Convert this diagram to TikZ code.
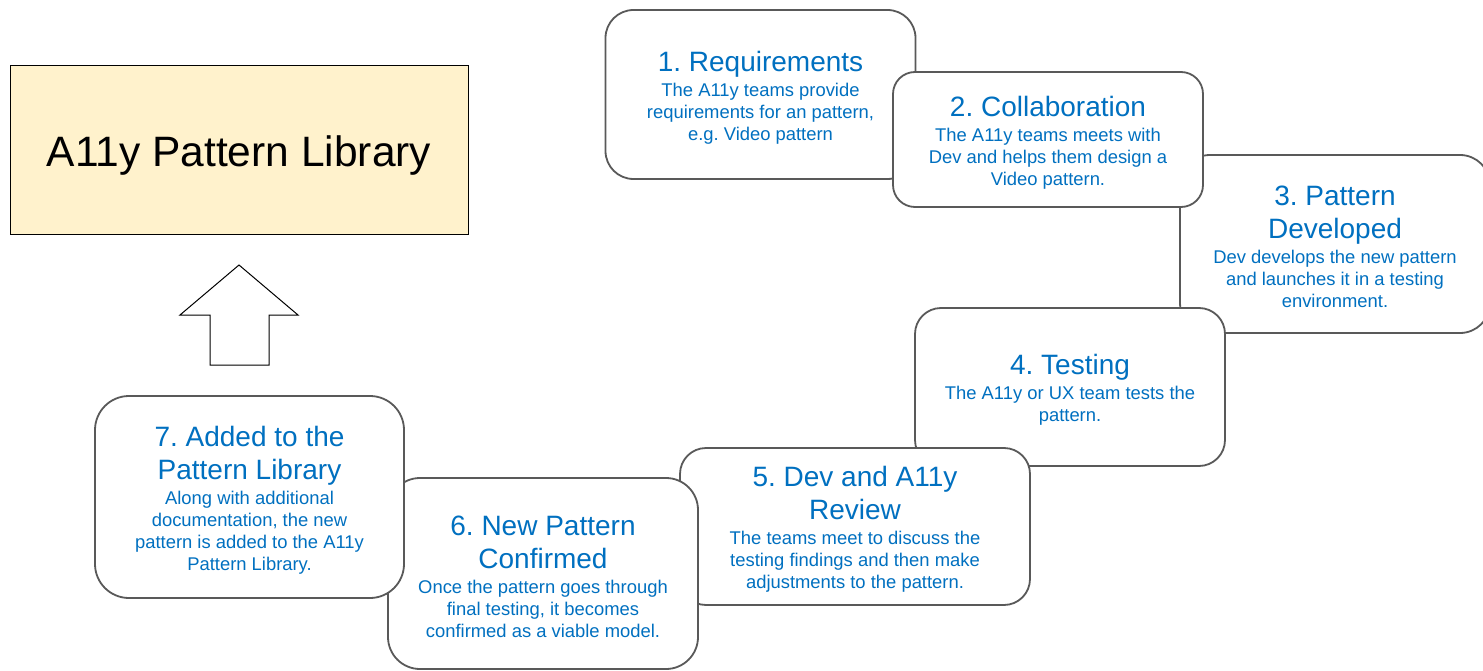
\documentclass[tikz,border=0pt]{standalone}
\usepackage{fontspec}
\setmainfont{Liberation Sans}
\frenchspacing
\definecolor{txtblue}{HTML}{0070C0}
\definecolor{boxgray}{HTML}{595959}
\definecolor{libfill}{HTML}{FFF2CC}
\newcommand{\stepbody}{\fontsize{18.4}{22}\selectfont\lineskiplimit=-100pt\relax}
\newcommand{\stephead}{\fontsize{28}{33}\selectfont}
\newcommand{\stepstrut}{\rule{0pt}{26pt}}
\begin{document}
\begin{tikzpicture}[x=1pt,y=-1pt]
\tikzset{stage/.style={draw=boxgray,line width=1.8pt,fill=white,text=txtblue,align=center,font=\stepbody,inner sep=0pt,minimum width=310pt}}
\useasboundingbox (0,0) rectangle (1483,671);
\node[draw,line width=1pt,fill=libfill,minimum width=458pt,minimum height=169pt,font=\fontsize{42.5}{50}\selectfont] (lib) at (239,150.5) {\rule{0pt}{41pt}A11y Pattern Library};
\draw[line width=1pt,fill=white] (239,265) -- (298,315) -- (269,315) -- (269,365) -- (210,365) -- (210,315) -- (180,315) -- cycle;
\node[stage,minimum height=169pt,rounded corners=28pt] (1) at (760.5,94.5) {\stepstrut\stephead 1. Requirements\\[3pt] The A11y teams provide\\ requirements for an pattern,\\ e.g. Video pattern};
\node[stage,minimum height=178pt,rounded corners=30pt] (3) at (1335,244) {\stepstrut\stephead 3. Pattern\\[11pt] \stephead Developed\\[3pt] Dev develops the new pattern\\ and launches it in a testing\\ environment.};
\node[stage,minimum height=135pt,rounded corners=22pt] (2) at (1048,139.5) {\stepstrut\stephead 2. Collaboration\\[3pt] The A11y teams meets with\\ Dev and helps them design a\\ Video pattern.};
\node[stage,minimum height=158pt,rounded corners=26pt] (4) at (1070,387) {\stepstrut\stephead 4. Testing\\[3pt] The A11y or UX team tests the\\ pattern.};
\node[stage,minimum width=350pt,minimum height=157pt,rounded corners=26pt] (5) at (855,526.5) {\stepstrut\stephead 5. Dev and A11y\\[11pt] \stephead Review\\[3pt] The teams meet to discuss the\\ testing findings and then make\\ adjustments to the pattern.};
\node[stage,minimum height=191pt,rounded corners=32pt] (6) at (543,573.5) {\stepstrut\stephead 6. New Pattern\\[11pt] \stephead Confirmed\\[3pt] Once the pattern goes through\\ final testing, it becomes\\ confirmed as a viable model.};
\node[stage,minimum width=309pt,minimum height=202pt,rounded corners=34pt] (7) at (249.5,497) {\stepstrut\stephead 7. Added to the\\[11pt] \stephead Pattern Library\\[3pt] Along with additional\\ documentation, the new\\ pattern is added to the A11y\\ Pattern Library.};
\end{tikzpicture}
\end{document}
